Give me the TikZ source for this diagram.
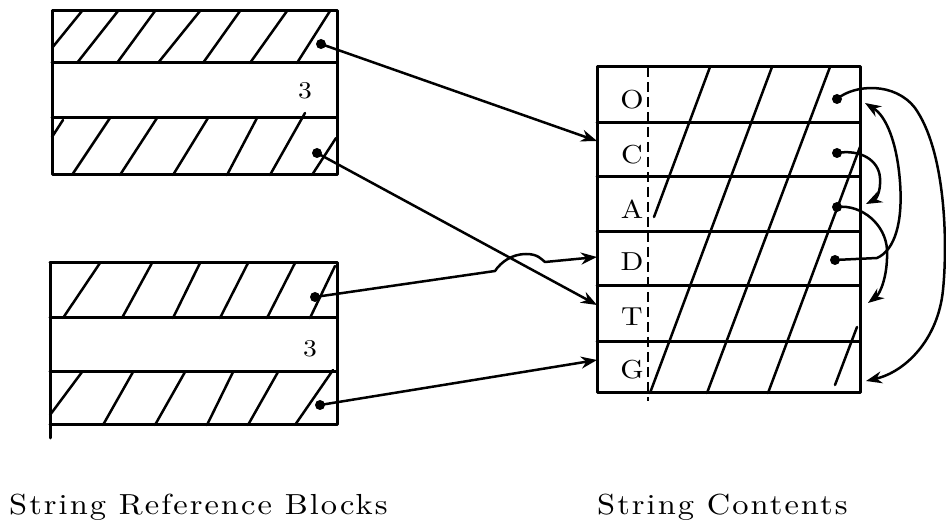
\documentclass[tikz,border=0pt]{standalone}
\usepackage{fontspec}
\newfontfamily\capfont{lmroman10-regular.otf}[FakeStretch=1.12,LetterSpace=7]
\newfontfamily\lblfont{lmroman10-regular.otf}[FakeStretch=1.15]
\usetikzlibrary{arrows.meta}
\begin{document}
\begin{tikzpicture}[x=1pt,y=-1pt,line cap=round,line join=round,
  boxline/.style={line width=3pt},
  hatch/.style={line width=2.5pt},
  ptr/.style={line width=2.5pt,-{Stealth[length=16pt,width=12pt]}},
  dot/.style={circle,fill,inner sep=0pt,minimum size=10pt},
  lbl/.style={font=\lblfont\fontsize{26}{26}\selectfont,inner sep=0pt},
  num/.style={font=\lblfont\fontsize{24}{24}\selectfont,inner sep=0pt},
  capt/.style={font=\capfont\fontsize{29}{29}\selectfont,inner sep=0pt,anchor=base west}]
\useasboundingbox[fill=white] (0,0) rectangle (946,526);

% ---------- top reference block ----------
\draw[boxline] (52,11) rectangle (337,175);
\draw[boxline] (52,63) -- (337,63) (52,118) -- (337,118);
\draw[hatch] (52,48) -- (82,11) (77,63) -- (118,11) (117,63) -- (155,11)
  (158,63) -- (200,11) (203,63) -- (240,11) (250,63) -- (287,11) (297,63) -- (330,11);
\draw[hatch] (52,137) -- (63,120) (72,175) -- (110,118) (120,175) -- (157,118)
  (173,175) -- (208,118) (227,175) -- (257,118) (270,175) -- (305,113) (312,175) -- (336,138);
\node[num] (n1) at (305,91) {3};

% ---------- bottom reference block ----------
\draw[boxline] (50,263) -- (337,263) -- (337,425) -- (50,425);
\draw[boxline] (50,263) -- (50,438);
\draw[boxline] (50,318) -- (337,318) (50,372) -- (337,372);
\draw[hatch] (63,318) -- (100,263) (122,318) -- (152,263) (173,318) -- (200,263)
  (220,318) -- (248,263) (267,318) -- (295,263) (310,318) -- (335,266);
\draw[hatch] (50,415) -- (82,372) (103,425) -- (133,372) (155,425) -- (185,372)
  (207,425) -- (233,372) (248,425) -- (278,372) (295,425) -- (333,370);
\node[num] (n2) at (310,349) {3};

% ---------- string contents block ----------
\draw[boxline] (597,67) rectangle (860,393);
\draw[boxline] (597,123) -- (860,123) (597,177) -- (860,177) (597,232) -- (860,232)
  (597,286) -- (860,286) (597,342) -- (860,342);
\draw[line width=2.5pt,line cap=butt,dash pattern=on 10pt off 5pt] (648,67) -- (648,401);
\draw[hatch] (710,67) -- (654,217) (772,67) -- (650,393) (830,67) -- (707,393)
  (860,147) -- (768,393) (857,327) -- (835,385);
\node[lbl] (lO) at (632,100) {O};
\node[lbl] (lC) at (632,155) {C};
\node[lbl] (lA) at (632,209) {A};
\node[lbl] (lD) at (632,262) {D};
\node[lbl] (lT) at (632,317) {T};
\node[lbl] (lG) at (632,370) {G};

% ---------- pointer dots and targets ----------
\node[dot] (d1) at (321,44) {};
\node[dot] (d2) at (317,153) {};
\node[dot] (d3) at (315,297) {};
\node[dot] (d4) at (320,405) {};
\node[dot] (dO) at (837,99) {};
\node[dot] (dC) at (837,153) {};
\node[dot] (dA) at (837,207) {};
\node[dot] (dD) at (835,260) {};
\coordinate (tC) at (597,141);
\coordinate (tD) at (597,257);
\coordinate (tT) at (597,305);
\coordinate (tG) at (597,360);
\coordinate (rO) at (865,103);
\coordinate (rA) at (866,204);
\coordinate (rT) at (868,303);
\coordinate (rG) at (866,381);

% ---------- pointers from reference blocks ----------
\draw[ptr] (d1.center) -- (tC);
\draw[ptr] (d2.center) -- (tT);
\draw[ptr] (d3.center) -- (495,271) .. controls (501,262) and (512,254) .. (526,254)
  .. controls (538,254) and (541,259) .. (545,262) -- (tD);
\draw[ptr] (d4.center) -- (tG);

% ---------- links inside string contents ----------
\draw[ptr] (dO.center) .. controls (855,84) and (895,82) .. (915,108)
  .. controls (945,150) and (948,240) .. (943,290)
  .. controls (938,340) and (905,372) .. (rG);
\draw[ptr] (dD.center) -- (877,258) .. controls (895,250) and (903,222) .. (900,182)
  .. controls (897,142) and (886,116) .. (rO);
\draw[ptr] (dC.center) .. controls (860,149) and (879,160) .. (880,178)
  .. controls (881,192) and (876,199) .. (rA);
\draw[ptr] (dA.center) .. controls (862,204) and (886,225) .. (887,250)
  .. controls (888,276) and (880,294) .. (rT);

% ---------- captions ----------
\node[capt] (c1) at (9,515) {String Reference Blocks};
\node[capt] (c2) at (597,515) {String Contents};
\end{tikzpicture}
\end{document}
